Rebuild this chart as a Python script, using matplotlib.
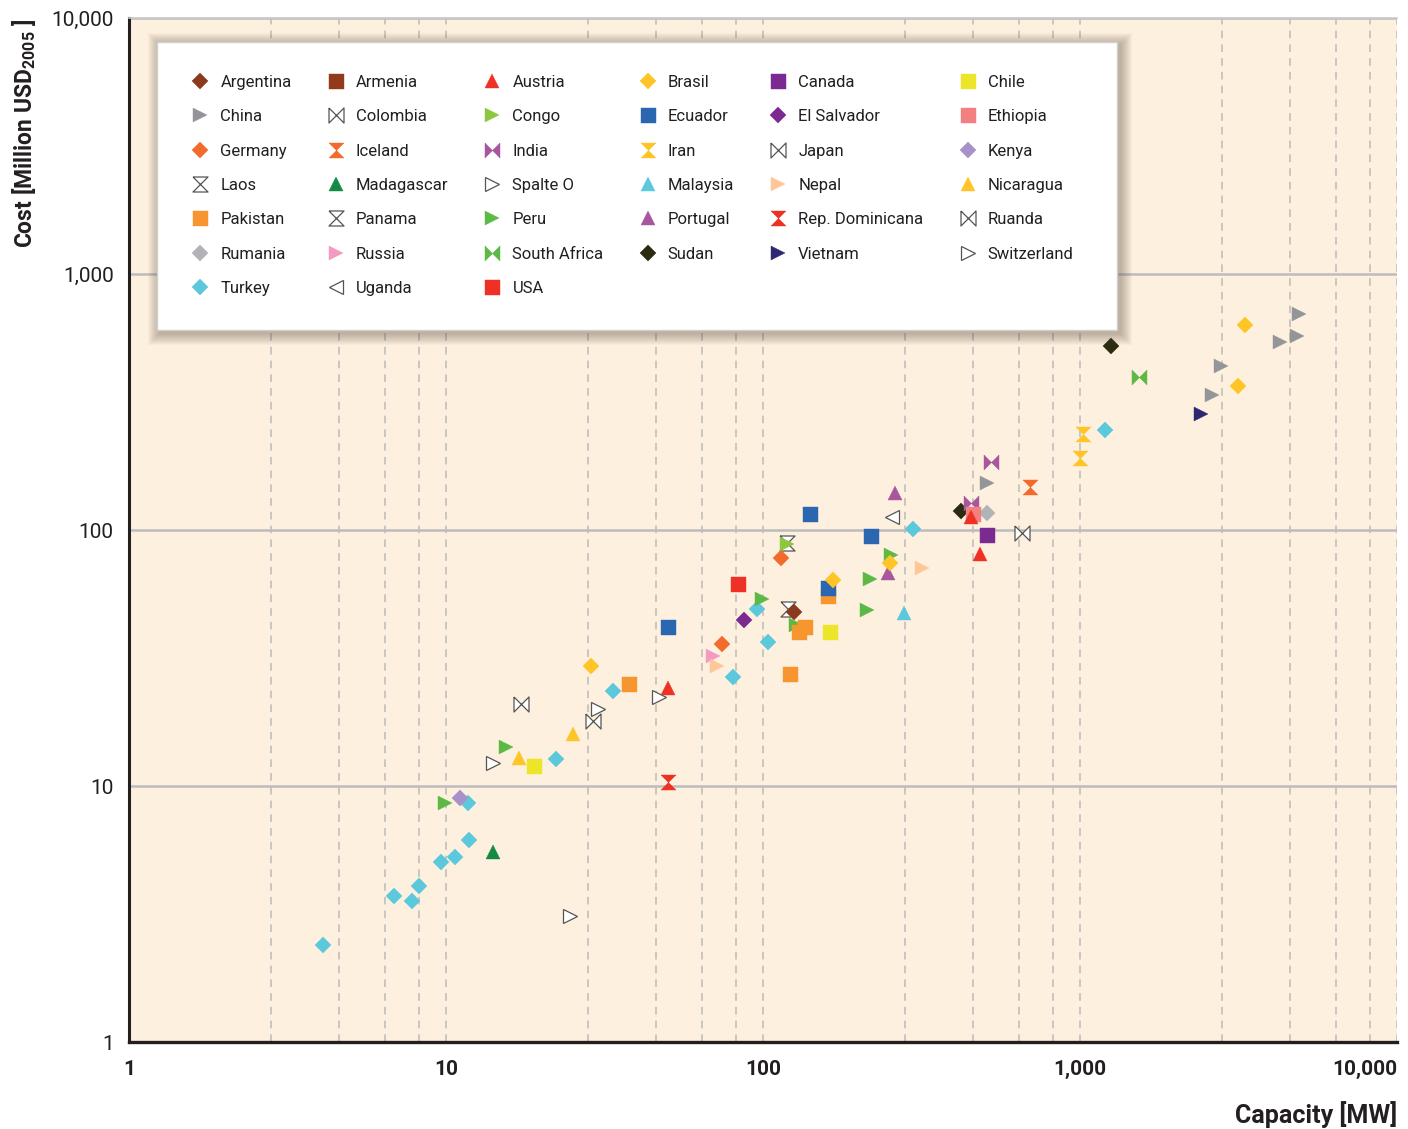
import matplotlib
matplotlib.use('Agg')
import matplotlib.pyplot as plt
from matplotlib import font_manager
from matplotlib.lines import Line2D
from matplotlib.patches import Rectangle

avail = {f.name for f in font_manager.fontManager.ttflist}
FONT = next((f for f in ['Liberation Sans Narrow', 'Roboto', 'Open Sans'] if f in avail), 'DejaVu Sans')
plt.rcParams['font.family'] = [FONT, 'DejaVu Sans']
plt.rcParams['mathtext.fontset'] = 'custom'
plt.rcParams['mathtext.rm'] = FONT
plt.rcParams['mathtext.bf'] = FONT + ':bold'

# ---- data -----------------------------------------------------------------
# legend order, row by row
COUNTRIES = ['Argentina', 'Armenia', 'Austria', 'Brasil', 'Canada', 'Chile',
             'China', 'Colombia', 'Congo', 'Ecuador', 'El Salvador', 'Ethiopia',
             'Germany', 'Iceland', 'India', 'Iran', 'Japan', 'Kenya',
             'Laos', 'Madagascar', 'Spalte O', 'Malaysia', 'Nepal', 'Nicaragua',
             'Pakistan', 'Panama', 'Peru', 'Portugal', 'Rep. Dominicana', 'Ruanda',
             'Rumania', 'Russia', 'South Africa', 'Sudan', 'Vietnam', 'Switzerland',
             'Turkey', 'Uganda', 'USA']

capacity_mw = {
    'Argentina': [125], 'Armenia': [], 'Austria': [50.2, 453, 484],
    'Brasil': [28.7, 166, 252, 3316, 3150], 'Canada': [509], 'Chile': [18.9, 163],
    'China': [509, 2785, 2609, 4275, 4840, 4909], 'Colombia': [17.2], 'Congo': [119],
    'Ecuador': [50.2, 141, 219, 160], 'El Salvador': [87.1], 'Ethiopia': [460],
    'Germany': [74.2, 114], 'Iceland': [695], 'India': [524, 453],
    'Iran': [1022, 1000], 'Japan': [656], 'Kenya': [11.1],
    'Laos': [119], 'Madagascar': [14.1], 'Spalte O': [24.6],
    'Malaysia': [279], 'Nepal': [71.6, 317], 'Nicaragua': [17.0, 25.2],
    'Pakistan': [37.8, 130, 136, 122, 160], 'Panama': [120],
    'Peru': [9.93, 15.5, 99.3, 218, 213, 253, 127], 'Portugal': [261, 248],
    'Rep. Dominicana': [50.2], 'Ruanda': [29.1], 'Rumania': [509], 'Russia': [69.5],
    'South Africa': [1535], 'Sudan': [1253, 421], 'Vietnam': [2409],
    'Switzerland': [14.1, 30.2, 47.0],
    'Turkey': [4.09, 6.86, 7.81, 8.22, 9.64, 10.7, 11.8, 11.7, 22.2, 33.6, 80.4,
               95.7, 103.7, 297, 1199],
    'Uganda': [255], 'USA': [83.4],
}
cost_musd = {
    'Argentina': [47.8], 'Armenia': [], 'Austria': [24.1, 112, 80.6],
    'Brasil': [29.4, 63.8, 74.3, 632, 365], 'Canada': [95.5], 'Chile': [12.0, 40.0],
    'China': [153, 437, 337, 543, 572, 698], 'Colombia': [20.9], 'Congo': [88.2],
    'Ecuador': [41.8, 115, 94.8, 59.3], 'El Salvador': [44.5], 'Ethiopia': [115],
    'Germany': [35.9, 77.8], 'Iceland': [147], 'India': [184, 127],
    'Iran': [237, 191], 'Japan': [97.3], 'Kenya': [8.98],
    'Laos': [88.9], 'Madagascar': [5.52], 'Spalte O': [3.11],
    'Malaysia': [47.4], 'Nepal': [29.4, 71.1], 'Nicaragua': [12.9, 16.0],
    'Pakistan': [25.0, 40.0, 41.8, 27.4, 55.2], 'Panama': [49.1],
    'Peru': [8.58, 14.2, 53.8, 64.4, 48.7, 79.8, 42.6], 'Portugal': [140, 67.9],
    'Rep. Dominicana': [10.4], 'Ruanda': [17.9], 'Rumania': [117], 'Russia': [32.2],
    'South Africa': [396], 'Sudan': [523, 119], 'Vietnam': [284],
    'Switzerland': [12.3, 20.0, 22.3],
    'Turkey': [2.39, 3.72, 3.56, 4.07, 5.05, 5.28, 6.15, 8.58, 12.7, 23.5, 26.7,
               49.1, 36.5, 100.9, 246],
    'Uganda': [112], 'USA': [61.5],
}

X_TICKS = [1, 10, 100, 1000, 10000]
X_LABELS = ['1', '10', '100', '1,000', '10,000']
Y_TICKS = [1, 10, 100, 1000, 10000]
Y_LABELS = ['1', '10', '100', '1,000', '10,000']

# ---- styles --------------------------------------------------------------
HOURGLASS = [(-1, 1), (1, 1), (-1, -1), (1, -1), (-1, 1)]
BOWTIE = [(-1, 1), (-1, -1), (1, 1), (1, -1), (-1, 1)]
WHITE = 'white'

STYLE = {
    'Argentina': ('D', '#8B3A1E'), 'Armenia': ('s', '#933A1C'), 'Austria': ('^', '#EE3124'),
    'Brasil': ('D', '#FFC425'), 'Canada': ('s', '#7B2A90'), 'Chile': ('s', '#EDE52A'),
    'China': ('>', '#939598'), 'Colombia': (BOWTIE, WHITE), 'Congo': ('>', '#8DC63F'),
    'Ecuador': ('s', '#2B67B1'), 'El Salvador': ('D', '#7B2A90'), 'Ethiopia': ('s', '#F28080'),
    'Germany': ('D', '#F26B2D'), 'Iceland': (HOURGLASS, '#F26B2D'), 'India': (BOWTIE, '#A8579F'),
    'Iran': (HOURGLASS, '#FFC425'), 'Japan': (BOWTIE, WHITE), 'Kenya': ('D', '#A890C8'),
    'Laos': (HOURGLASS, WHITE), 'Madagascar': ('^', '#148A43'), 'Spalte O': ('>', WHITE),
    'Malaysia': ('^', '#5BC8DC'), 'Nepal': ('>', '#FDC79A'), 'Nicaragua': ('^', '#FFC425'),
    'Pakistan': ('s', '#F7962E'), 'Panama': (HOURGLASS, WHITE), 'Peru': ('>', '#5CB946'),
    'Portugal': ('^', '#A8579F'), 'Rep. Dominicana': (HOURGLASS, '#EE3124'),
    'Ruanda': (BOWTIE, WHITE), 'Rumania': ('D', '#B1B3B6'), 'Russia': ('>', '#F49AC1'),
    'South Africa': (BOWTIE, '#5CB946'), 'Sudan': ('D', '#2B2B0F'), 'Vietnam': ('>', '#2E2872'),
    'Switzerland': ('>', WHITE), 'Turkey': ('D', '#5BC8DC'), 'Uganda': ('<', WHITE),
    'USA': ('s', '#EE3124'),
}
SIZE = {'D': 8.0, 's': 10.8, '^': 10.6, '>': 10.6, '<': 10.6}
BG = '#FDF0DE'
GRID = '#BBBBBB'
INK = '#231F20'


def marker_kw(name):
    m, c = STYLE[name]
    ms = SIZE.get(m, 10.6) if isinstance(m, str) else 10.8
    if c == WHITE:
        return dict(marker=m, markersize=ms, markerfacecolor='white',
                    markeredgecolor='#555555', markeredgewidth=0.9)
    return dict(marker=m, markersize=ms, markerfacecolor=c,
                markeredgecolor=c, markeredgewidth=0.3)


# ---- figure --------------------------------------------------------------
W, H = 1408, 1129
L, R, T, B = 129, 1397, 18, 1042
fig = plt.figure(figsize=(W / 100, H / 100), dpi=100)
ax = fig.add_axes([L / W, (H - B) / H, (R - L) / W, (B - T) / H])
ax.set_facecolor(BG)
ax.set_xscale('log'); ax.set_yscale('log')
ax.set_xlim(1, 10000); ax.set_ylim(1, 10000)

# draw in reverse legend order (matches the overlaps of the original)
for name in reversed(COUNTRIES):
    xs, ys = capacity_mw[name], cost_musd[name]
    if not xs:
        continue
    ax.plot(xs, ys, linestyle='none', zorder=4, **marker_kw(name))

# grid: dashed verticals at 1/5 linear steps of each decade, solid horizontals
minor = [d * (1 + 1.8 * k) for d in (1, 10, 100, 1000) for k in range(1, 5)]
ax.set_xticks(X_TICKS, X_LABELS)
ax.set_xticks(minor, minor=True)
ax.set_xticklabels([], minor=True)
ax.set_yticks(Y_TICKS, Y_LABELS)
ax.yaxis.set_minor_locator(matplotlib.ticker.NullLocator())
ax.set_axisbelow(True)
ax.grid(axis='x', which='both', color=GRID, lw=1.1, ls=(0, (5, 4)))
ax.grid(axis='y', which='major', color='#BDBDBD', lw=1.8, ls='-')
ax.tick_params(which='both', length=0)
ax.tick_params(axis='x', pad=13, labelsize=15, labelcolor=INK)
ax.tick_params(axis='y', pad=11, labelsize=15, labelcolor=INK)
for t in ax.get_xticklabels():
    t.set_fontweight('bold')
ax.get_xticklabels()[-1].set_horizontalalignment('right')

ax.spines['left'].set_linewidth(2.2)
ax.spines['bottom'].set_linewidth(2.4)
ax.spines['left'].set_color(INK)
ax.spines['bottom'].set_color(INK)
ax.spines['top'].set_color('#C8C8C8')
ax.spines['top'].set_linewidth(1.2)
ax.spines['right'].set_visible(False)

ax.set_xlabel('Capacity [MW]', loc='right', fontsize=18, fontweight='bold',
              color=INK, labelpad=16)
ax.set_ylabel(r'Cost [Million USD$_{\mathbf{2005}}$ ]', loc='top', fontsize=16.5,
              fontweight='bold', color=INK)
ax.yaxis.set_label_coords(-(L - 38) / (R - L), 1.0)

# ---- legend box with soft shadow -----------------------------------------
def to_ax(px, py):
    return (px - L) / (R - L), (B - py) / (B - T)

bx0, by0 = to_ax(157, 330)
bx1, by1 = to_ax(1117, 42)
dx, dy = 1 / (R - L), 1 / (B - T)
for i in range(12, 0, -1):
    ax.add_patch(Rectangle((bx0 - (i - 3) * dx, by0 - (i + 3) * dy),
                           (bx1 - bx0) + (2 * i) * dx, (by1 - by0) + (2 * i) * dy,
                           transform=ax.transAxes, facecolor='#5a4a3a', edgecolor='none',
                           alpha=0.035, zorder=5))
ax.add_patch(Rectangle((bx0, by0), bx1 - bx0, by1 - by0, transform=ax.transAxes,
                       facecolor='white', edgecolor='#CFCFCF', lw=1.0, zorder=6))

# row-major legend grid -> column-major order for matplotlib
NCOL, NROW = 6, 7
blank = Line2D([], [], linestyle='none', marker='')
cells = []
for r in range(NROW):
    for c in range(NCOL):
        i = r * NCOL + c
        cells.append(COUNTRIES[i] if i < len(COUNTRIES) else None)
handles, labels = [], []
for c in range(NCOL):
    for r in range(NROW):
        name = cells[r * NCOL + c]
        if name is None:
            handles.append(blank); labels.append('')
        else:
            handles.append(Line2D([], [], linestyle='none', **marker_kw(name)))
            labels.append(name)

lx, ly = to_ax(192, 75)
leg = ax.legend(handles, labels, ncol=NCOL, loc='upper left', bbox_to_anchor=(lx, ly),
                frameon=False, borderpad=0, fontsize=12, handlelength=1.0,
                handletextpad=0.7, columnspacing=2.15, labelspacing=1.16,
                borderaxespad=0)
leg.set_zorder(7)
for t in leg.get_texts():
    t.set_color(INK)

fig.savefig('out.png', dpi=100, facecolor='white')
